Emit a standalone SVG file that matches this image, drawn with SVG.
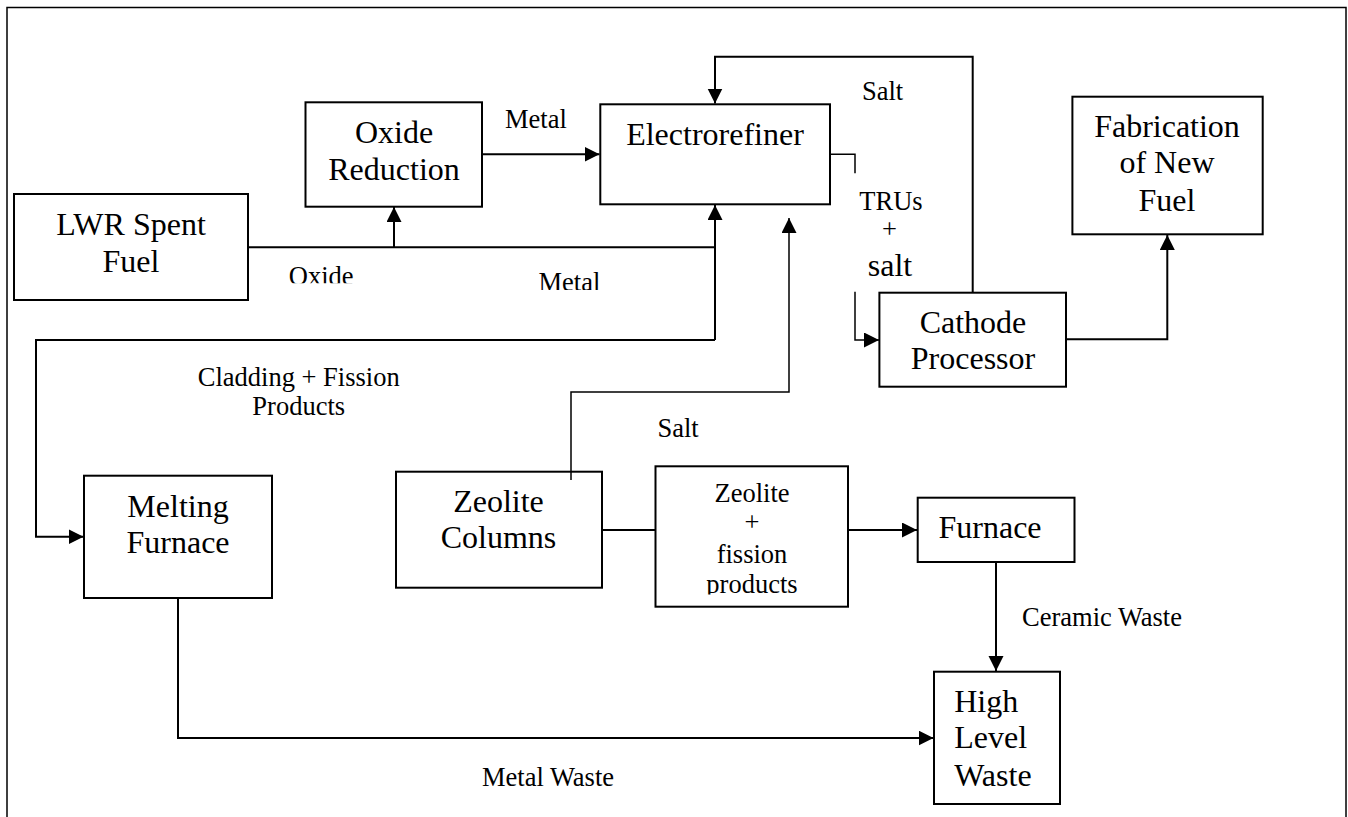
<svg xmlns="http://www.w3.org/2000/svg" width="1348" height="817" viewBox="0 0 1348 817">
<defs>
<marker id="ah" markerUnits="userSpaceOnUse" markerWidth="17" markerHeight="17" refX="15" refY="7.5" orient="auto"><path d="M0,0 L15,7.5 L0,15 z" fill="#000"/></marker>
<clipPath id="cpOxide"><rect x="280" y="255" width="90" height="28.3"/></clipPath>
<clipPath id="cpMetal"><rect x="530" y="260" width="80" height="30"/></clipPath>
<clipPath id="cpProd"><rect x="700" y="565" width="110" height="29.5"/></clipPath>
</defs>
<style>
.box{fill:#fff;stroke:#000;stroke-width:2}
.n{font-family:"Liberation Serif","Times New Roman",serif;font-size:32px;text-anchor:middle;fill:#000}
.ns{font-family:"Liberation Serif","Times New Roman",serif;font-size:32px;text-anchor:start;fill:#000}
.l{font-family:"Liberation Serif","Times New Roman",serif;font-size:26.5px;fill:#000}
.lm{font-family:"Liberation Serif","Times New Roman",serif;font-size:26.5px;text-anchor:middle;fill:#000}
.c{fill:none;stroke:#000;stroke-width:2}
.t{fill:none;stroke:#000;stroke-width:1.5}
</style>
<rect x="7" y="7.5" width="1339" height="830" fill="#fff" stroke="#000" stroke-width="1.5"/>

<g id="lwr"><rect class="box" x="14" y="194" width="234" height="106"/>
<text class="n" x="131" y="235">LWR Spent</text><text class="n" x="131" y="271.7">Fuel</text></g>

<g id="oxide-reduction"><rect class="box" x="305.5" y="102.3" width="176.5" height="104.4"/>
<text class="n" x="394" y="142.7">Oxide</text><text class="n" x="394" y="180">Reduction</text></g>

<g id="electrorefiner"><rect class="box" x="600.3" y="104.3" width="229.7" height="100"/>
<text class="n" x="715" y="145">Electrorefiner</text></g>

<g id="fabrication"><rect class="box" x="1072.4" y="96.7" width="190.3" height="137.6"/>
<text class="n" x="1167" y="136.7">Fabrication</text><text class="n" x="1167" y="173.3">of New</text><text class="n" x="1167" y="210.7">Fuel</text></g>

<g id="cathode"><rect class="box" x="879.4" y="292.7" width="186.6" height="94"/>
<text class="n" x="973" y="333.3">Cathode</text><text class="n" x="973" y="369.3">Processor</text></g>

<g id="melting"><rect class="box" x="84" y="475.7" width="188" height="122.3"/>
<text class="n" x="178" y="516.7">Melting</text><text class="n" x="178" y="552.7">Furnace</text></g>

<g id="zeolite-columns"><rect class="box" x="396" y="471.7" width="206" height="116"/>
<text class="n" x="498.5" y="511.7">Zeolite</text><text class="n" x="498.5" y="548.3">Columns</text></g>

<g id="zeolite-fp"><rect class="box" x="655.5" y="466.3" width="192.5" height="140.4"/>
<text class="lm" x="752" y="501.7">Zeolite</text>
<text class="lm" x="752" y="530.5">+</text>
<text class="lm" x="752" y="562.7">fission</text>
<text class="lm" x="752" y="592.7" clip-path="url(#cpProd)">products</text></g>

<g id="furnace"><rect class="box" x="917.7" y="497.7" width="156.8" height="64.3"/>
<text class="n" x="990" y="538.3">Furnace</text></g>

<g id="hlw"><rect class="box" x="934" y="671.7" width="126" height="132.3"/>
<text class="ns" x="954.2" y="711.7">High</text>
<text class="ns" x="954.2" y="748.3">Level</text>
<text class="ns" x="954.2" y="786">Waste</text></g>

<g id="connectors">
<path class="c" d="M248,247.3 H715"/>
<path class="c" d="M394,247.3 V207" marker-end="url(#ah)"/>
<path class="c" d="M482,154.3 H599.5" marker-end="url(#ah)"/>
<path class="c" d="M715,340 V205" marker-end="url(#ah)"/>
<path class="c" d="M715,340 H36 V536.7 H83.5" marker-end="url(#ah)"/>
<path class="c" d="M972.7,292.7 V56.7 H715 V103.5" marker-end="url(#ah)"/>
<path class="t" d="M830,154.3 H855 V173.3"/>
<path class="t" d="M855,291.7 V340 H879" marker-end="url(#ah)"/>
<path class="c" d="M1066,339.3 H1167.3 V235" marker-end="url(#ah)"/>
<path class="t" d="M571,480 V392 H789 V218" marker-end="url(#ah)"/>
<path class="c" d="M602,530 H655.5"/>
<path class="c" d="M848,530 H917" marker-end="url(#ah)"/>
<path class="c" d="M996,562 V671" marker-end="url(#ah)"/>
<path class="c" d="M178,598 V738 H933.5" marker-end="url(#ah)"/>
</g>

<g id="labels">
<text class="l" x="505" y="128">Metal</text>
<text class="l" x="862" y="100">Salt</text>
<text class="l" x="288.8" y="285.3" clip-path="url(#cpOxide)">Oxide</text>
<text class="l" x="538.5" y="291.2" clip-path="url(#cpMetal)">Metal</text>
<text class="l" x="859.3" y="210">TRUs</text>
<text class="lm" x="889.5" y="238">+</text>
<text class="n" x="890" y="276">salt</text>
<text class="lm" x="298.7" y="386">Cladding + Fission</text>
<text class="lm" x="298.7" y="415">Products</text>
<text class="l" x="657.5" y="437.3">Salt</text>
<text class="l" x="1022" y="626">Ceramic Waste</text>
<text class="l" x="482" y="785.7">Metal Waste</text>
</g>
</svg>
